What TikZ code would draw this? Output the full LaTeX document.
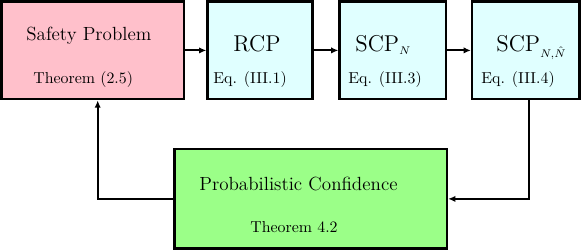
\documentclass[tikz,border=0pt]{standalone}
\usetikzlibrary{arrows.meta}
\definecolor{boxpink}{RGB}{255,192,203}
\definecolor{boxcyan}{RGB}{224,255,255}
\definecolor{boxgreen}{RGB}{155,255,136}
\begin{document}
\begin{tikzpicture}[x=0.63pt,y=-0.63pt,
  blk/.style={draw=black,line width=1.4pt,inner sep=0pt,minimum height=61.6pt},
  txt/.style={anchor=base west,inner sep=0pt},
  arr/.style={line width=1.2pt,-{Latex[length=4.6pt,width=4pt]}}]
\useasboundingbox (0,0) rectangle (581,250);
% boxes
\node[blk,fill=boxpink,minimum width=115pt] (safety) at (92.75,50.4) {};
\node[blk,fill=boxcyan,minimum width=66.2pt] (rcp) at (260,50.4) {};
\node[blk,fill=boxcyan,minimum width=67.1pt] (scpn) at (392.75,50.4) {};
\node[blk,fill=boxcyan,minimum width=67.7pt] (scpnn) at (525.75,50.4) {};
\node[blk,fill=boxgreen,minimum width=171.7pt,minimum height=62.4pt] (prob) at (310.75,198.9) {};
% texts
\node[txt,font=\large] (t1) at (26,41) {Safety Problem};
\node[txt] (t1b) at (33,84) {Theorem (2.5)};
\node[txt,font=\Large] (t2) at (233,52) {RCP};
\node[txt] (t2b) at (213,84) {Eq. (III.1)};
\node[txt] (t3) at (355,52) {{\Large SCP}$_N$};
\node[txt] (t3b) at (348,84) {Eq. (III.3)};
\node[txt] (t4) at (496,52) {{\Large SCP}$_{N,\hat N}$};
\node[txt] (t4b) at (481,84) {Eq. (III.4)};
\node[txt,font=\large] (t5) at (199,191) {Probabilistic Confidence};
\node[txt] (t5b) at (250,233) {Theorem 4.2};
% connectors
\draw[arr] (safety) -- (rcp);
\draw[arr] (rcp) -- (scpn);
\draw[arr] (scpn) -- (scpnn);
\coordinate (cr) at (529.3,0);
\coordinate (cl) at (97.7,0);
\draw[arr] (scpnn.south -| cr) |- (prob.east);
\draw[arr] (prob.west) -| (safety.south -| cl);
\end{tikzpicture}
\end{document}
